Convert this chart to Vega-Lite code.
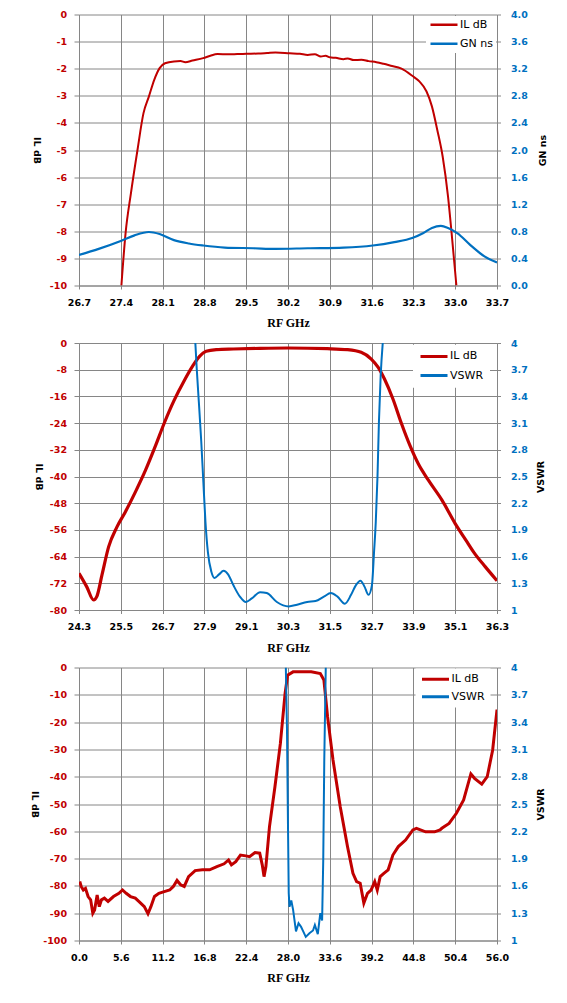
{
  "$schema": "https://vega.github.io/schema/vega-lite/v6.json",
  "background": "white",
  "padding": {"left": 29, "top": 9.5, "right": 5, "bottom": 5},
  "config": {
    "view": {"stroke": null},
    "axis": {
      "labelFont": "DejaVu Sans", "labelFontWeight": "bold", "labelFontSize": 9.5,
      "titleFont": "DejaVu Sans", "titleFontWeight": "bold", "titleFontSize": 9.5, "titleColor": "black",
      "domainColor": "#868686", "tickColor": "#868686", "gridColor": "#868686",
      "gridOpacity": 1, "gridWidth": 1, "domainWidth": 1, "tickWidth": 1,
      "labelFlush": false, "labelOverlap": false
    },
    "axisX": {
      "labelColor": "black", "tickSize": 3.5, "labelPadding": 8,
      "titleFont": "Liberation Serif", "titleFontSize": 12, "titleY": 37, "titleBaseline": "middle"
    },
    "legend": {
      "title": null, "fillColor": "white", "symbolType": "stroke", "symbolSize": 729,
      "labelFont": "DejaVu Sans", "labelFontSize": 11, "labelColor": "black", "labelOffset": 1,
      "clipHeight": 11.4, "direction": "vertical", "orient": "none"
    }
  },
  "datasets": {
    "p1": [
      {"f": 27.41, "v": -10, "s": "IL dB"}, {"f": 27.48, "v": -8.07, "s": "IL dB"}, {"f": 27.57, "v": -6.59, "s": "IL dB"},
      {"f": 27.68, "v": -4.99, "s": "IL dB"}, {"f": 27.78, "v": -3.64, "s": "IL dB"}, {"f": 27.87, "v": -3.03, "s": "IL dB"},
      {"f": 27.96, "v": -2.41, "s": "IL dB"}, {"f": 28.05, "v": -1.98, "s": "IL dB"}, {"f": 28.14, "v": -1.8, "s": "IL dB"},
      {"f": 28.29, "v": -1.73, "s": "IL dB"}, {"f": 28.4, "v": -1.72, "s": "IL dB"}, {"f": 28.48, "v": -1.76, "s": "IL dB"},
      {"f": 28.6, "v": -1.7, "s": "IL dB"}, {"f": 28.78, "v": -1.61, "s": "IL dB"}, {"f": 28.9, "v": -1.52, "s": "IL dB"},
      {"f": 29.02, "v": -1.46, "s": "IL dB"}, {"f": 29.2, "v": -1.47, "s": "IL dB"}, {"f": 29.35, "v": -1.46, "s": "IL dB"},
      {"f": 29.5, "v": -1.45, "s": "IL dB"}, {"f": 29.7, "v": -1.44, "s": "IL dB"}, {"f": 29.85, "v": -1.42, "s": "IL dB"},
      {"f": 29.99, "v": -1.4, "s": "IL dB"}, {"f": 30.23, "v": -1.43, "s": "IL dB"}, {"f": 30.4, "v": -1.45, "s": "IL dB"},
      {"f": 30.53, "v": -1.49, "s": "IL dB"}, {"f": 30.65, "v": -1.47, "s": "IL dB"}, {"f": 30.75, "v": -1.55, "s": "IL dB"},
      {"f": 30.83, "v": -1.52, "s": "IL dB"}, {"f": 30.9, "v": -1.58, "s": "IL dB"}, {"f": 31.0, "v": -1.6, "s": "IL dB"},
      {"f": 31.13, "v": -1.65, "s": "IL dB"}, {"f": 31.2, "v": -1.62, "s": "IL dB"}, {"f": 31.3, "v": -1.68, "s": "IL dB"},
      {"f": 31.43, "v": -1.67, "s": "IL dB"}, {"f": 31.55, "v": -1.72, "s": "IL dB"}, {"f": 31.68, "v": -1.76, "s": "IL dB"},
      {"f": 31.8, "v": -1.82, "s": "IL dB"}, {"f": 31.92, "v": -1.89, "s": "IL dB"}, {"f": 32.1, "v": -2.0, "s": "IL dB"},
      {"f": 32.28, "v": -2.26, "s": "IL dB"}, {"f": 32.4, "v": -2.47, "s": "IL dB"}, {"f": 32.52, "v": -2.84, "s": "IL dB"},
      {"f": 32.61, "v": -3.39, "s": "IL dB"}, {"f": 32.7, "v": -4.26, "s": "IL dB"}, {"f": 32.79, "v": -5.24, "s": "IL dB"},
      {"f": 32.88, "v": -6.72, "s": "IL dB"}, {"f": 32.94, "v": -8.07, "s": "IL dB"}, {"f": 33.02, "v": -10, "s": "IL dB"},
      {"f": 26.7, "v": 0.45, "s": "GN ns"}, {"f": 27.03, "v": 0.54, "s": "GN ns"}, {"f": 27.41, "v": 0.66, "s": "GN ns"},
      {"f": 27.63, "v": 0.74, "s": "GN ns"}, {"f": 27.87, "v": 0.79, "s": "GN ns"}, {"f": 28.05, "v": 0.76, "s": "GN ns"},
      {"f": 28.29, "v": 0.67, "s": "GN ns"}, {"f": 28.54, "v": 0.62, "s": "GN ns"}, {"f": 28.78, "v": 0.59, "s": "GN ns"},
      {"f": 29.14, "v": 0.56, "s": "GN ns"}, {"f": 29.62, "v": 0.55, "s": "GN ns"}, {"f": 29.99, "v": 0.54, "s": "GN ns"},
      {"f": 30.53, "v": 0.55, "s": "GN ns"}, {"f": 31.13, "v": 0.56, "s": "GN ns"}, {"f": 31.62, "v": 0.59, "s": "GN ns"},
      {"f": 31.98, "v": 0.64, "s": "GN ns"}, {"f": 32.28, "v": 0.7, "s": "GN ns"}, {"f": 32.46, "v": 0.77, "s": "GN ns"},
      {"f": 32.61, "v": 0.85, "s": "GN ns"}, {"f": 32.76, "v": 0.88, "s": "GN ns"}, {"f": 32.88, "v": 0.85, "s": "GN ns"},
      {"f": 33.04, "v": 0.77, "s": "GN ns"}, {"f": 33.25, "v": 0.6, "s": "GN ns"}, {"f": 33.49, "v": 0.43, "s": "GN ns"},
      {"f": 33.7, "v": 0.34, "s": "GN ns"}
    ],
    "p2": [
      {"f": 24.3, "v": -69.0, "s": "IL dB"}, {"f": 24.52, "v": -73.0, "s": "IL dB"}, {"f": 24.72, "v": -77.0, "s": "IL dB"},
      {"f": 24.81, "v": -76.0, "s": "IL dB"}, {"f": 24.96, "v": -69.5, "s": "IL dB"}, {"f": 25.15, "v": -61.1, "s": "IL dB"},
      {"f": 25.39, "v": -55.1, "s": "IL dB"}, {"f": 25.63, "v": -50.6, "s": "IL dB"}, {"f": 25.92, "v": -44.6, "s": "IL dB"},
      {"f": 26.21, "v": -38.1, "s": "IL dB"}, {"f": 26.5, "v": -30.7, "s": "IL dB"}, {"f": 26.74, "v": -24.2, "s": "IL dB"},
      {"f": 27.03, "v": -17.2, "s": "IL dB"}, {"f": 27.32, "v": -11.3, "s": "IL dB"}, {"f": 27.57, "v": -6.8, "s": "IL dB"},
      {"f": 27.76, "v": -4.0, "s": "IL dB"}, {"f": 27.95, "v": -2.5, "s": "IL dB"}, {"f": 28.24, "v": -2.0, "s": "IL dB"},
      {"f": 28.73, "v": -1.8, "s": "IL dB"}, {"f": 29.5, "v": -1.6, "s": "IL dB"}, {"f": 30.3, "v": -1.5, "s": "IL dB"},
      {"f": 31.43, "v": -1.7, "s": "IL dB"}, {"f": 32.01, "v": -2.0, "s": "IL dB"}, {"f": 32.4, "v": -2.8, "s": "IL dB"},
      {"f": 32.69, "v": -4.8, "s": "IL dB"}, {"f": 32.89, "v": -7.3, "s": "IL dB"}, {"f": 33.07, "v": -10.8, "s": "IL dB"},
      {"f": 33.31, "v": -16.7, "s": "IL dB"}, {"f": 33.56, "v": -24.2, "s": "IL dB"}, {"f": 33.8, "v": -30.7, "s": "IL dB"},
      {"f": 34.04, "v": -36.2, "s": "IL dB"}, {"f": 34.33, "v": -41.1, "s": "IL dB"}, {"f": 34.72, "v": -47.1, "s": "IL dB"},
      {"f": 35.1, "v": -54.1, "s": "IL dB"}, {"f": 35.44, "v": -59.6, "s": "IL dB"}, {"f": 35.64, "v": -62.8, "s": "IL dB"},
      {"f": 35.96, "v": -67.0, "s": "IL dB"}, {"f": 36.3, "v": -71.2, "s": "IL dB"},
      {"f": 27.64, "v": 4.0, "s": "VSWR"}, {"f": 27.68, "v": 3.71, "s": "VSWR"}, {"f": 27.74, "v": 3.34, "s": "VSWR"},
      {"f": 27.81, "v": 2.89, "s": "VSWR"}, {"f": 27.87, "v": 2.44, "s": "VSWR"}, {"f": 27.93, "v": 1.99, "s": "VSWR"},
      {"f": 28.0, "v": 1.65, "s": "VSWR"}, {"f": 28.1, "v": 1.43, "s": "VSWR"}, {"f": 28.19, "v": 1.36, "s": "VSWR"},
      {"f": 28.32, "v": 1.4, "s": "VSWR"}, {"f": 28.45, "v": 1.44, "s": "VSWR"}, {"f": 28.58, "v": 1.4, "s": "VSWR"},
      {"f": 28.73, "v": 1.28, "s": "VSWR"}, {"f": 28.92, "v": 1.15, "s": "VSWR"}, {"f": 29.09, "v": 1.09, "s": "VSWR"},
      {"f": 29.26, "v": 1.13, "s": "VSWR"}, {"f": 29.5, "v": 1.2, "s": "VSWR"}, {"f": 29.69, "v": 1.19, "s": "VSWR"},
      {"f": 29.98, "v": 1.09, "s": "VSWR"}, {"f": 30.32, "v": 1.04, "s": "VSWR"}, {"f": 30.56, "v": 1.06, "s": "VSWR"},
      {"f": 30.85, "v": 1.09, "s": "VSWR"}, {"f": 31.09, "v": 1.1, "s": "VSWR"}, {"f": 31.33, "v": 1.15, "s": "VSWR"},
      {"f": 31.53, "v": 1.19, "s": "VSWR"}, {"f": 31.72, "v": 1.15, "s": "VSWR"}, {"f": 31.93, "v": 1.07, "s": "VSWR"},
      {"f": 32.11, "v": 1.17, "s": "VSWR"}, {"f": 32.25, "v": 1.28, "s": "VSWR"}, {"f": 32.38, "v": 1.33, "s": "VSWR"},
      {"f": 32.5, "v": 1.26, "s": "VSWR"}, {"f": 32.61, "v": 1.17, "s": "VSWR"}, {"f": 32.71, "v": 1.28, "s": "VSWR"},
      {"f": 32.77, "v": 1.65, "s": "VSWR"}, {"f": 32.82, "v": 1.99, "s": "VSWR"}, {"f": 32.87, "v": 2.51, "s": "VSWR"},
      {"f": 32.91, "v": 3.11, "s": "VSWR"}, {"f": 32.96, "v": 3.63, "s": "VSWR"}, {"f": 33.02, "v": 4.0, "s": "VSWR"}
    ],
    "p3": [
      {"f": 0.1, "v": -78.4, "s": "IL dB"}, {"f": 0.29, "v": -80.2, "s": "IL dB"}, {"f": 0.58, "v": -81.5, "s": "IL dB"},
      {"f": 0.87, "v": -80.9, "s": "IL dB"}, {"f": 1.22, "v": -83.9, "s": "IL dB"}, {"f": 1.56, "v": -85.1, "s": "IL dB"},
      {"f": 1.85, "v": -90.0, "s": "IL dB"}, {"f": 2.09, "v": -88.8, "s": "IL dB"}, {"f": 2.43, "v": -83.3, "s": "IL dB"},
      {"f": 2.72, "v": -87.6, "s": "IL dB"}, {"f": 3.01, "v": -85.1, "s": "IL dB"}, {"f": 3.4, "v": -84.5, "s": "IL dB"},
      {"f": 3.89, "v": -85.7, "s": "IL dB"}, {"f": 4.62, "v": -83.9, "s": "IL dB"}, {"f": 5.35, "v": -82.7, "s": "IL dB"},
      {"f": 5.83, "v": -81.5, "s": "IL dB"}, {"f": 6.32, "v": -82.7, "s": "IL dB"}, {"f": 6.9, "v": -83.9, "s": "IL dB"},
      {"f": 7.54, "v": -84.5, "s": "IL dB"}, {"f": 8.26, "v": -86.3, "s": "IL dB"}, {"f": 8.75, "v": -87.6, "s": "IL dB"},
      {"f": 9.24, "v": -90.2, "s": "IL dB"}, {"f": 9.63, "v": -87.6, "s": "IL dB"}, {"f": 10.11, "v": -83.9, "s": "IL dB"},
      {"f": 10.7, "v": -82.7, "s": "IL dB"}, {"f": 11.42, "v": -82.1, "s": "IL dB"}, {"f": 12.15, "v": -81.5, "s": "IL dB"},
      {"f": 12.64, "v": -80.2, "s": "IL dB"}, {"f": 13.13, "v": -78.0, "s": "IL dB"}, {"f": 13.61, "v": -79.6, "s": "IL dB"},
      {"f": 14.1, "v": -80.2, "s": "IL dB"}, {"f": 14.68, "v": -76.6, "s": "IL dB"}, {"f": 15.56, "v": -74.4, "s": "IL dB"},
      {"f": 16.53, "v": -74.1, "s": "IL dB"}, {"f": 17.5, "v": -74.1, "s": "IL dB"}, {"f": 18.47, "v": -72.9, "s": "IL dB"},
      {"f": 19.44, "v": -71.9, "s": "IL dB"}, {"f": 20.03, "v": -70.5, "s": "IL dB"}, {"f": 20.42, "v": -72.3, "s": "IL dB"},
      {"f": 21.0, "v": -71.1, "s": "IL dB"}, {"f": 21.63, "v": -68.7, "s": "IL dB"}, {"f": 22.36, "v": -69.0, "s": "IL dB"},
      {"f": 22.85, "v": -69.3, "s": "IL dB"}, {"f": 23.58, "v": -67.8, "s": "IL dB"}, {"f": 24.21, "v": -68.0, "s": "IL dB"},
      {"f": 24.55, "v": -72.3, "s": "IL dB"}, {"f": 24.79, "v": -76.6, "s": "IL dB"}, {"f": 25.04, "v": -72.9, "s": "IL dB"},
      {"f": 25.52, "v": -58.3, "s": "IL dB"}, {"f": 26.25, "v": -43.7, "s": "IL dB"}, {"f": 26.98, "v": -27.8, "s": "IL dB"},
      {"f": 27.61, "v": -9.5, "s": "IL dB"}, {"f": 27.95, "v": -2.8, "s": "IL dB"}, {"f": 28.68, "v": -1.6, "s": "IL dB"},
      {"f": 31.11, "v": -1.6, "s": "IL dB"}, {"f": 32.33, "v": -2.2, "s": "IL dB"}, {"f": 32.81, "v": -4.6, "s": "IL dB"},
      {"f": 33.3, "v": -18.0, "s": "IL dB"}, {"f": 34.03, "v": -33.9, "s": "IL dB"}, {"f": 35.0, "v": -51.0, "s": "IL dB"},
      {"f": 35.97, "v": -65.6, "s": "IL dB"}, {"f": 36.7, "v": -75.4, "s": "IL dB"}, {"f": 37.19, "v": -78.4, "s": "IL dB"},
      {"f": 37.67, "v": -79.0, "s": "IL dB"}, {"f": 38.16, "v": -86.3, "s": "IL dB"}, {"f": 38.65, "v": -82.7, "s": "IL dB"},
      {"f": 39.13, "v": -81.5, "s": "IL dB"}, {"f": 39.62, "v": -78.4, "s": "IL dB"}, {"f": 39.96, "v": -81.5, "s": "IL dB"},
      {"f": 40.35, "v": -76.6, "s": "IL dB"}, {"f": 40.84, "v": -75.4, "s": "IL dB"}, {"f": 41.42, "v": -74.1, "s": "IL dB"},
      {"f": 42.05, "v": -68.7, "s": "IL dB"}, {"f": 42.78, "v": -65.6, "s": "IL dB"}, {"f": 43.75, "v": -63.2, "s": "IL dB"},
      {"f": 44.73, "v": -59.5, "s": "IL dB"}, {"f": 45.21, "v": -58.9, "s": "IL dB"}, {"f": 46.43, "v": -60.2, "s": "IL dB"},
      {"f": 47.64, "v": -60.2, "s": "IL dB"}, {"f": 48.37, "v": -59.5, "s": "IL dB"}, {"f": 48.61, "v": -58.9, "s": "IL dB"},
      {"f": 49.58, "v": -57.1, "s": "IL dB"}, {"f": 50.56, "v": -53.4, "s": "IL dB"}, {"f": 51.53, "v": -48.5, "s": "IL dB"},
      {"f": 52.5, "v": -39.0, "s": "IL dB"}, {"f": 52.99, "v": -40.6, "s": "IL dB"}, {"f": 53.96, "v": -42.7, "s": "IL dB"},
      {"f": 54.69, "v": -40.0, "s": "IL dB"}, {"f": 55.42, "v": -30.2, "s": "IL dB"}, {"f": 56.0, "v": -15.4, "s": "IL dB"},
      {"f": 27.71, "v": 4.0, "s": "VSWR"}, {"f": 27.86, "v": 3.35, "s": "VSWR"}, {"f": 28.0, "v": 2.25, "s": "VSWR"},
      {"f": 28.1, "v": 1.52, "s": "VSWR"}, {"f": 28.2, "v": 1.37, "s": "VSWR"}, {"f": 28.44, "v": 1.44, "s": "VSWR"},
      {"f": 28.68, "v": 1.34, "s": "VSWR"}, {"f": 29.07, "v": 1.1, "s": "VSWR"}, {"f": 29.41, "v": 1.19, "s": "VSWR"},
      {"f": 29.75, "v": 1.15, "s": "VSWR"}, {"f": 30.04, "v": 1.1, "s": "VSWR"}, {"f": 30.38, "v": 1.04, "s": "VSWR"},
      {"f": 30.87, "v": 1.08, "s": "VSWR"}, {"f": 31.35, "v": 1.11, "s": "VSWR"}, {"f": 31.6, "v": 1.17, "s": "VSWR"},
      {"f": 31.99, "v": 1.07, "s": "VSWR"}, {"f": 32.33, "v": 1.3, "s": "VSWR"}, {"f": 32.57, "v": 1.22, "s": "VSWR"},
      {"f": 32.72, "v": 1.88, "s": "VSWR"}, {"f": 32.86, "v": 2.98, "s": "VSWR"}, {"f": 33.06, "v": 4.0, "s": "VSWR"}
    ]
  },
  "resolve": {"scale": {"color": "independent"}, "legend": {"color": "independent"}},
  "bounds": "flush",
  "spacing": 57.5,
  "vconcat": [
    {
      "width": 418, "height": 271,
      "data": {"name": "p1"},
      "layer": [
        {
          "transform": [{"filter": "datum.s === 'IL dB'"}],
          "mark": {"type": "line", "strokeWidth": 2, "interpolate": "monotone", "clip": true},
          "encoding": {
            "x": {"field": "f", "type": "quantitative",
              "scale": {"domain": [26.7, 33.7], "nice": false, "zero": false},
              "axis": {"title": "RF GHz", "format": ".1f", "grid": true,
                "values": [26.7, 27.4, 28.1, 28.8, 29.5, 30.2, 30.9, 31.6, 32.3, 33.0, 33.7]}},
            "y": {"field": "v", "type": "quantitative",
              "scale": {"domain": [-10, 0], "nice": false, "zero": false},
              "axis": {"orient": "left", "title": "IL dB", "grid": true, "format": ".0f",
                "labelExpr": "replace(datum.label, '−', '-')",
                "values": [-10, -9, -8, -7, -6, -5, -4, -3, -2, -1, 0],
                "labelColor": "#C00000", "tickSize": 5, "labelPadding": 7.5,
                "titleAngle": 90, "titleX": -43, "titleY": 135.5, "titleAlign": "center", "titleBaseline": "middle"}},
            "color": {"field": "s", "type": "nominal",
              "scale": {"domain": ["IL dB", "GN ns"], "range": ["#C00000", "#0070C0"]},
              "legend": {"legendX": 347, "legendY": 1.5, "padding": 3, "rowPadding": 6, "symbolStrokeWidth": 2.5}}
          }
        },
        {
          "transform": [{"filter": "datum.s === 'GN ns'"}],
          "mark": {"type": "line", "strokeWidth": 2.2, "interpolate": "monotone", "clip": true},
          "encoding": {
            "x": {"field": "f", "type": "quantitative"},
            "y": {"field": "v", "type": "quantitative",
              "scale": {"domain": [0, 4], "nice": false},
              "axis": {"orient": "right", "title": "GN ns", "grid": false, "format": ".1f",
                "values": [0, 0.4, 0.8, 1.2, 1.6, 2.0, 2.4, 2.8, 3.2, 3.6, 4.0],
                "labelColor": "#0070C0", "tickSize": 3.5, "labelPadding": 10,
                "titleAngle": 270, "titleX": 45, "titleY": 135.5, "titleAlign": "center", "titleBaseline": "middle"}},
            "color": {"field": "s", "type": "nominal",
              "scale": {"domain": ["IL dB", "GN ns"], "range": ["#C00000", "#0070C0"]}}
          }
        }
      ],
      "resolve": {"scale": {"y": "independent"}}
    },
    {
      "width": 418, "height": 267,
      "data": {"name": "p2"},
      "layer": [
        {
          "transform": [{"filter": "datum.s === 'IL dB'"}],
          "mark": {"type": "line", "strokeWidth": 3.2, "interpolate": "monotone", "clip": true},
          "encoding": {
            "x": {"field": "f", "type": "quantitative",
              "scale": {"domain": [24.3, 36.3], "nice": false, "zero": false},
              "axis": {"title": "RF GHz", "format": ".1f", "grid": true,
                "values": [24.3, 25.5, 26.7, 27.9, 29.1, 30.3, 31.5, 32.7, 33.9, 35.1, 36.3]}},
            "y": {"field": "v", "type": "quantitative",
              "scale": {"domain": [-80, 0], "nice": false, "zero": false},
              "axis": {"orient": "left", "title": "IL dB", "grid": true, "format": ".0f",
                "labelExpr": "replace(datum.label, '−', '-')",
                "values": [-80, -72, -64, -56, -48, -40, -32, -24, -16, -8, 0],
                "labelColor": "#C00000", "tickSize": 5, "labelPadding": 7.5,
                "titleAngle": 90, "titleX": -41, "titleY": 133.5, "titleAlign": "center", "titleBaseline": "middle"}},
            "color": {"field": "s", "type": "nominal",
              "scale": {"domain": ["IL dB", "VSWR"], "range": ["#C00000", "#0070C0"]},
              "legend": {"legendX": 334, "legendY": 1.7, "padding": 6, "rowPadding": 6.2, "symbolStrokeWidth": 3}}
          }
        },
        {
          "transform": [{"filter": "datum.s === 'VSWR'"}],
          "mark": {"type": "line", "strokeWidth": 2, "interpolate": "monotone", "clip": true},
          "encoding": {
            "x": {"field": "f", "type": "quantitative"},
            "y": {"field": "v", "type": "quantitative",
              "scale": {"domain": [1, 4], "nice": false, "zero": false},
              "axis": {"orient": "right", "title": "VSWR", "grid": false, "format": "~g",
                "values": [1, 1.3, 1.6, 1.9, 2.2, 2.5, 2.8, 3.1, 3.4, 3.7, 4],
                "labelColor": "#0070C0", "tickSize": 3.5, "labelPadding": 10,
                "titleAngle": 270, "titleX": 43, "titleY": 133.5, "titleAlign": "center", "titleBaseline": "middle"}},
            "color": {"field": "s", "type": "nominal",
              "scale": {"domain": ["IL dB", "VSWR"], "range": ["#C00000", "#0070C0"]}}
          }
        }
      ],
      "resolve": {"scale": {"y": "independent"}}
    },
    {
      "width": 418, "height": 273,
      "data": {"name": "p3"},
      "layer": [
        {
          "transform": [{"filter": "datum.s === 'IL dB'"}],
          "mark": {"type": "line", "strokeWidth": 3, "clip": true},
          "encoding": {
            "x": {"field": "f", "type": "quantitative",
              "scale": {"domain": [0, 56], "nice": false, "zero": false},
              "axis": {"title": "RF GHz", "format": ".1f", "grid": true,
                "values": [0, 5.6, 11.2, 16.8, 22.4, 28, 33.6, 39.2, 44.8, 50.4, 56]}},
            "y": {"field": "v", "type": "quantitative",
              "scale": {"domain": [-100, 0], "nice": false, "zero": false},
              "axis": {"orient": "left", "title": "IL dB", "grid": true, "format": ".0f",
                "labelExpr": "replace(datum.label, '−', '-')",
                "values": [-100, -90, -80, -70, -60, -50, -40, -30, -20, -10, 0],
                "labelColor": "#C00000", "tickSize": 5, "labelPadding": 7.5,
                "titleAngle": 90, "titleX": -45, "titleY": 136.5, "titleAlign": "center", "titleBaseline": "middle"}},
            "color": {"field": "s", "type": "nominal",
              "scale": {"domain": ["IL dB", "VSWR"], "range": ["#C00000", "#0070C0"]},
              "legend": {"legendX": 336.5, "legendY": 1, "padding": 5, "rowPadding": 4.6, "symbolStrokeWidth": 3}}
          }
        },
        {
          "transform": [{"filter": "datum.s === 'VSWR'"}],
          "mark": {"type": "line", "strokeWidth": 2, "clip": true},
          "encoding": {
            "x": {"field": "f", "type": "quantitative"},
            "y": {"field": "v", "type": "quantitative",
              "scale": {"domain": [1, 4], "nice": false, "zero": false},
              "axis": {"orient": "right", "title": "VSWR", "grid": false, "format": "~g",
                "values": [1, 1.3, 1.6, 1.9, 2.2, 2.5, 2.8, 3.1, 3.4, 3.7, 4],
                "labelColor": "#0070C0", "tickSize": 3.5, "labelPadding": 10,
                "titleAngle": 270, "titleX": 43, "titleY": 136.5, "titleAlign": "center", "titleBaseline": "middle"}},
            "color": {"field": "s", "type": "nominal",
              "scale": {"domain": ["IL dB", "VSWR"], "range": ["#C00000", "#0070C0"]}}
          }
        }
      ],
      "resolve": {"scale": {"y": "independent"}}
    }
  ]
}
